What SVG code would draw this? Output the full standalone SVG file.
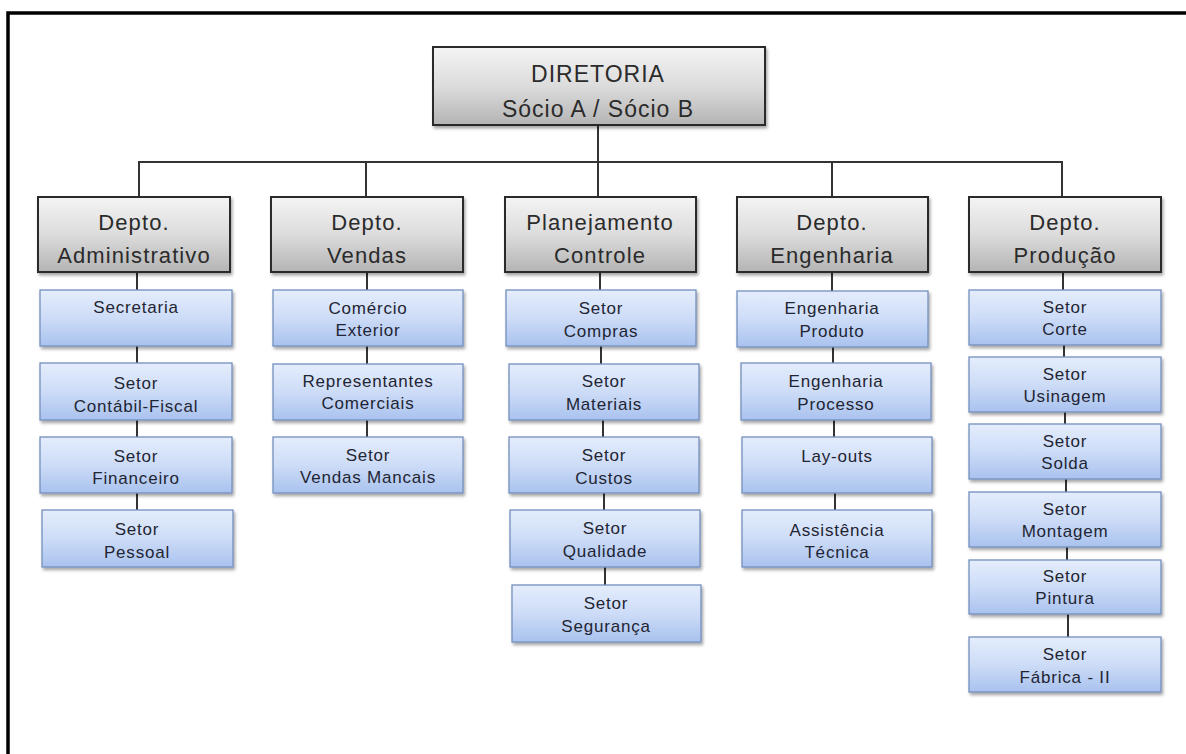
<svg xmlns="http://www.w3.org/2000/svg" width="1186" height="754" viewBox="0 0 1186 754">
<defs>
<linearGradient id="gGray" x1="0" y1="0" x2="0" y2="1">
<stop offset="0" stop-color="#f4f4f4"/>
<stop offset="0.5" stop-color="#dcdcdc"/>
<stop offset="1" stop-color="#b4b4b4"/>
</linearGradient>
<linearGradient id="gBlue" x1="0" y1="0" x2="0" y2="1">
<stop offset="0" stop-color="#e4edfc"/>
<stop offset="0.5" stop-color="#cddcf7"/>
<stop offset="1" stop-color="#a9c2ee"/>
</linearGradient>
<filter id="sh" x="-5%" y="-5%" width="115%" height="125%">
<feDropShadow dx="1.5" dy="2.5" stdDeviation="1.5" flood-color="#000" flood-opacity="0.35"/>
</filter>
</defs>
<style>
.g{fill:url(#gGray);stroke:#2a2a2a;stroke-width:2;filter:url(#sh)}
.b{fill:url(#gBlue);stroke:#7490bd;stroke-width:1.3;filter:url(#sh)}
.tg{font-family:"Liberation Sans",Arial,sans-serif;font-size:22px;fill:#2b2b2b;text-anchor:middle;letter-spacing:1.1px}
.tt{font-family:"Liberation Sans",Arial,sans-serif;font-size:23px;fill:#2b2b2b;text-anchor:middle;letter-spacing:1px}
.tb{font-family:"Liberation Sans",Arial,sans-serif;font-size:17px;fill:#1f2533;text-anchor:middle;letter-spacing:0.8px}
.c{stroke:#333;stroke-width:2;fill:none}
.frame{stroke:#000;stroke-width:3.5;fill:none}
</style>
<rect width="1186" height="754" fill="#fff"/>
<path class="frame" d="M8,754 V13 H1186"/>

<g id="connectors">
<line class="c" x1="598" y1="125" x2="598" y2="162"/>
<line class="c" x1="138" y1="162" x2="1063" y2="162"/>
<line class="c" x1="139" y1="162" x2="139" y2="197"/>
<line class="c" x1="366" y1="162" x2="366" y2="197"/>
<line class="c" x1="598" y1="162" x2="598" y2="197"/>
<line class="c" x1="832" y1="162" x2="832" y2="197"/>
<line class="c" x1="1062" y1="162" x2="1062" y2="197"/>
<!-- admin -->
<line class="c" x1="137" y1="272" x2="137" y2="290"/>
<line class="c" x1="137" y1="346" x2="137" y2="363"/>
<line class="c" x1="137" y1="420" x2="137" y2="437"/>
<line class="c" x1="137" y1="493" x2="137" y2="510"/>
<!-- vendas -->
<line class="c" x1="367" y1="272" x2="367" y2="290"/>
<line class="c" x1="367" y1="346" x2="367" y2="364"/>
<line class="c" x1="367" y1="420" x2="367" y2="437"/>
<!-- planejamento -->
<line class="c" x1="600" y1="272" x2="600" y2="290"/>
<line class="c" x1="601" y1="346" x2="601" y2="364"/>
<line class="c" x1="603" y1="420" x2="603" y2="437"/>
<line class="c" x1="604" y1="493" x2="604" y2="510"/>
<line class="c" x1="605" y1="567" x2="605" y2="585"/>
<!-- engenharia -->
<line class="c" x1="832" y1="272" x2="832" y2="291"/>
<line class="c" x1="833" y1="347" x2="833" y2="363"/>
<line class="c" x1="834" y1="420" x2="834" y2="437"/>
<line class="c" x1="835" y1="493" x2="835" y2="510"/>
<!-- producao -->
<line class="c" x1="1063" y1="272" x2="1063" y2="290"/>
<line class="c" x1="1064" y1="345" x2="1064" y2="357"/>
<line class="c" x1="1065" y1="412" x2="1065" y2="424"/>
<line class="c" x1="1066" y1="479" x2="1066" y2="492"/>
<line class="c" x1="1067" y1="547" x2="1067" y2="560"/>
<line class="c" x1="1068" y1="614" x2="1068" y2="637"/>
</g>

<g id="diretoria">
<rect class="g" x="433" y="47" width="332" height="78"/>
<text class="tt" x="598" y="82">DIRETORIA</text>
<text class="tt" x="598" y="117">Sócio A / Sócio B</text>
</g>

<g id="depto-adm">
<rect class="g" x="38" y="197" width="192" height="75"/>
<text class="tg" x="134" y="230">Depto.</text>
<text class="tg" x="134" y="263">Administrativo</text>
</g>
<g id="depto-vendas">
<rect class="g" x="271" y="197" width="192" height="75"/>
<text class="tg" x="367" y="230">Depto.</text>
<text class="tg" x="367" y="263">Vendas</text>
</g>
<g id="planejamento">
<rect class="g" x="505" y="197" width="191" height="75"/>
<text class="tg" x="600" y="230">Planejamento</text>
<text class="tg" x="600" y="263">Controle</text>
</g>
<g id="depto-eng">
<rect class="g" x="737" y="197" width="191" height="75"/>
<text class="tg" x="832" y="230">Depto.</text>
<text class="tg" x="832" y="263">Engenharia</text>
</g>
<g id="depto-prod">
<rect class="g" x="969" y="197" width="192" height="75"/>
<text class="tg" x="1065" y="230">Depto.</text>
<text class="tg" x="1065" y="263">Produção</text>
</g>

<!-- Admin children -->
<g id="secretaria"><rect class="b" x="40" y="290" width="192" height="56"/>
<text class="tb" x="136" y="313">Secretaria</text></g>
<g id="contabil"><rect class="b" x="40" y="363" width="192" height="57"/>
<text class="tb" x="136" y="389">Setor</text><text class="tb" x="136" y="412">Contábil-Fiscal</text></g>
<g id="financeiro"><rect class="b" x="40" y="437" width="192" height="56"/>
<text class="tb" x="136" y="462">Setor</text><text class="tb" x="136" y="484">Financeiro</text></g>
<g id="pessoal"><rect class="b" x="42" y="510" width="191" height="57"/>
<text class="tb" x="137" y="535">Setor</text><text class="tb" x="137" y="558">Pessoal</text></g>

<!-- Vendas children -->
<g id="comercio"><rect class="b" x="273" y="290" width="190" height="56"/>
<text class="tb" x="368" y="314">Comércio</text><text class="tb" x="368" y="336">Exterior</text></g>
<g id="representantes"><rect class="b" x="273" y="364" width="190" height="56"/>
<text class="tb" x="368" y="387">Representantes</text><text class="tb" x="368" y="409">Comerciais</text></g>
<g id="vendas-mancais"><rect class="b" x="273" y="437" width="190" height="56"/>
<text class="tb" x="368" y="461">Setor</text><text class="tb" x="368" y="483">Vendas Mancais</text></g>

<!-- Planejamento children -->
<g id="compras"><rect class="b" x="506" y="290" width="190" height="56"/>
<text class="tb" x="601" y="314">Setor</text><text class="tb" x="601" y="337">Compras</text></g>
<g id="materiais"><rect class="b" x="509" y="364" width="190" height="56"/>
<text class="tb" x="604" y="387">Setor</text><text class="tb" x="604" y="410">Materiais</text></g>
<g id="custos"><rect class="b" x="509" y="437" width="190" height="56"/>
<text class="tb" x="604" y="461">Setor</text><text class="tb" x="604" y="484">Custos</text></g>
<g id="qualidade"><rect class="b" x="510" y="510" width="190" height="57"/>
<text class="tb" x="605" y="534">Setor</text><text class="tb" x="605" y="557">Qualidade</text></g>
<g id="seguranca"><rect class="b" x="512" y="585" width="189" height="57"/>
<text class="tb" x="606" y="609">Setor</text><text class="tb" x="606" y="632">Segurança</text></g>

<!-- Engenharia children -->
<g id="eng-produto"><rect class="b" x="737" y="291" width="191" height="56"/>
<text class="tb" x="832" y="314">Engenharia</text><text class="tb" x="832" y="337">Produto</text></g>
<g id="eng-processo"><rect class="b" x="741" y="363" width="190" height="57"/>
<text class="tb" x="836" y="387">Engenharia</text><text class="tb" x="836" y="410">Processo</text></g>
<g id="layouts"><rect class="b" x="742" y="437" width="190" height="56"/>
<text class="tb" x="837" y="462">Lay-outs</text></g>
<g id="assistencia"><rect class="b" x="742" y="510" width="190" height="57"/>
<text class="tb" x="837" y="536">Assistência</text><text class="tb" x="837" y="558">Técnica</text></g>

<!-- Producao children -->
<g id="corte"><rect class="b" x="969" y="290" width="192" height="55"/>
<text class="tb" x="1065" y="313">Setor</text><text class="tb" x="1065" y="335">Corte</text></g>
<g id="usinagem"><rect class="b" x="969" y="357" width="192" height="55"/>
<text class="tb" x="1065" y="380">Setor</text><text class="tb" x="1065" y="402">Usinagem</text></g>
<g id="solda"><rect class="b" x="969" y="424" width="192" height="55"/>
<text class="tb" x="1065" y="447">Setor</text><text class="tb" x="1065" y="469">Solda</text></g>
<g id="montagem"><rect class="b" x="969" y="492" width="192" height="55"/>
<text class="tb" x="1065" y="515">Setor</text><text class="tb" x="1065" y="537">Montagem</text></g>
<g id="pintura"><rect class="b" x="969" y="560" width="192" height="54"/>
<text class="tb" x="1065" y="582">Setor</text><text class="tb" x="1065" y="604">Pintura</text></g>
<g id="fabrica"><rect class="b" x="969" y="637" width="192" height="55"/>
<text class="tb" x="1065" y="660">Setor</text><text class="tb" x="1065" y="683">Fábrica - II</text></g>
</svg>
